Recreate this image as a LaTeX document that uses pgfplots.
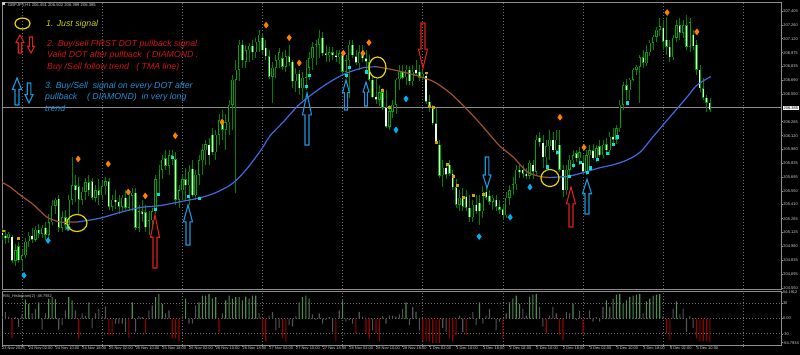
\documentclass[border=0pt]{standalone}
\usepackage{pgfplots}
\pgfplotsset{compat=1.18}
\usepackage{pgfplotstable}
\usepackage{fontspec}
\setmainfont{Liberation Sans}
\definecolor{wick}{RGB}{0,130,0}
\definecolor{bodyline}{RGB}{0,165,0}
\definecolor{bearfill}{RGB}{225,255,225}
\definecolor{tmab}{RGB}{65,105,225}
\definecolor{tmar}{RGB}{160,82,45}
\definecolor{dorange}{RGB}{255,128,0}
\definecolor{dcyan}{RGB}{0,175,240}
\definecolor{scyan}{RGB}{0,225,225}
\definecolor{sorange}{RGB}{220,160,0}
\definecolor{gridc}{RGB}{110,110,110}
\definecolor{framec}{RGB}{140,140,140}
\definecolor{labc}{RGB}{205,205,205}
\definecolor{hgreen}{RGB}{80,140,80}
\definecolor{hred}{RGB}{150,0,0}
\definecolor{hgrey}{RGB}{85,85,85}
\definecolor{ytext}{RGB}{205,205,20}
\definecolor{rtext}{RGB}{205,20,20}
\definecolor{btext}{RGB}{30,145,215}
\definecolor{rarrow}{RGB}{220,30,30}
\definecolor{barrow}{RGB}{30,150,220}
\definecolor{ycirc}{RGB}{230,215,0}
\newcommand\LegFont{\fontsize{8.8}{9.5}\selectfont\itshape}
\newcommand\TinyFont{\fontsize{4}{4.5}\selectfont}
\newcommand\ArrUp[5]{%
  \draw[#4, line width=1.1bp, line join=miter]
   (#1,#2) -- ({#1+#5},{#2+0.42*(#3-#2)}) -- ({#1+0.45*#5},{#2+0.42*(#3-#2)}) -- ({#1+0.45*#5},#3) -- ({#1-0.45*#5},#3) -- ({#1-0.45*#5},{#2+0.42*(#3-#2)}) -- ({#1-#5},{#2+0.42*(#3-#2)}) -- cycle;}
\newcommand\ArrDown[5]{%
  \draw[#4, line width=1.1bp, line join=miter]
   (#1,#3) -- ({#1+#5},{#3-0.42*(#3-#2)}) -- ({#1+0.45*#5},{#3-0.42*(#3-#2)}) -- ({#1+0.45*#5},#2) -- ({#1-0.45*#5},#2) -- ({#1-0.45*#5},{#3-0.42*(#3-#2)}) -- ({#1-#5},{#3-0.42*(#3-#2)}) -- cycle;}

\pgfplotstableread{
i o h l c
0 205.12 205.17 205.05 205.09
1 205.09 205.15 205.00 205.07
2 205.07 205.13 205.02 205.11
3 205.08 205.10 204.81 204.83
4 204.83 205.00 204.78 204.94
5 204.98 205.02 204.81 204.84
6 204.84 204.94 204.74 204.89
7 204.89 205.07 204.86 205.03
8 205.03 205.13 204.97 205.09
9 205.09 205.17 205.01 205.05
10 205.05 205.19 205.03 205.15
11 205.15 205.21 205.07 205.11
12 205.11 205.20 205.07 205.17
13 205.17 205.23 205.05 205.10
14 205.10 205.31 205.05 205.23
15 205.23 205.46 205.20 205.40
16 205.40 205.48 205.31 205.46
17 205.47 205.51 205.13 205.17
18 205.17 205.34 205.13 205.28
19 205.28 205.36 205.15 205.20
20 205.20 205.51 205.17 205.46
21 205.46 205.90 205.41 205.61
22 205.61 205.72 205.44 205.56
23 205.60 205.69 205.31 205.46
24 205.46 205.59 205.41 205.54
25 205.54 205.69 205.46 205.64
26 205.64 205.72 205.50 205.56
27 205.65 205.69 205.46 205.48
28 205.48 205.61 205.44 205.56
29 205.56 205.67 205.41 205.51
30 205.51 205.65 205.46 205.60
31 205.60 205.69 205.51 205.65
32 205.65 205.69 205.36 205.39
33 205.39 205.51 205.34 205.46
34 205.46 205.56 205.36 205.44
35 205.44 205.51 205.31 205.39
36 205.39 205.51 205.34 205.48
37 205.48 205.56 205.34 205.38
38 205.38 205.56 205.34 205.50
39 205.50 205.58 205.34 205.53
40 205.53 205.58 205.15 205.17
41 205.17 205.41 205.13 205.34
42 205.34 205.46 205.23 205.31
43 205.33 205.41 205.13 205.18
44 205.18 205.34 205.10 205.25
45 205.25 205.38 205.17 205.34
46 205.34 205.72 205.31 205.67
47 205.67 205.82 205.51 205.77
48 205.77 205.92 205.67 205.87
49 205.89 205.97 205.77 205.81
50 205.81 205.97 205.72 205.92
51 205.92 205.97 205.82 205.89
52 205.88 205.95 205.41 205.46
53 205.46 205.61 205.38 205.56
54 205.56 205.72 205.46 205.67
55 205.67 205.79 205.46 205.61
56 205.61 205.82 205.41 205.75
57 205.78 205.87 205.49 205.51
58 205.51 205.77 205.46 205.72
59 205.72 205.92 205.61 205.87
60 205.87 206.03 205.72 205.97
61 205.97 206.08 205.82 206.03
62 206.03 206.10 205.82 205.92
63 206.13 206.20 205.92 205.95
64 205.95 206.18 205.87 206.13
65 206.13 206.34 206.03 206.28
66 206.28 206.39 206.08 206.18
67 206.18 206.34 205.97 206.26
68 206.26 206.49 206.13 206.44
69 206.44 206.75 206.18 206.70
70 206.70 206.90 205.53 206.80
71 206.80 207.11 206.68 207.06
72 207.06 207.11 206.82 206.90
73 206.88 207.06 206.82 207.00
74 207.00 207.08 206.88 207.05
75 207.05 207.11 206.90 206.98
76 206.98 207.13 206.92 207.09
77 207.09 207.21 206.98 207.16
78 207.13 207.18 206.95 207.00
79 207.03 207.11 206.90 206.94
80 206.94 207.00 206.70 206.73
81 206.73 206.88 206.46 206.82
82 206.82 206.95 206.72 206.90
83 206.90 207.03 206.82 206.98
84 206.92 206.98 206.80 206.83
85 206.83 207.00 206.78 206.94
86 206.94 207.06 206.84 206.88
87 206.88 206.90 206.61 206.68
88 206.68 206.82 206.57 206.76
89 206.76 206.80 206.54 206.61
90 206.61 206.78 206.49 206.72
91 206.72 206.90 206.59 206.82
92 206.82 206.98 206.70 206.92
93 206.92 207.09 206.80 207.03
94 207.03 207.11 206.85 207.06
95 207.06 207.21 206.92 207.13
96 207.13 207.19 206.94 206.97
97 206.97 207.06 206.88 206.95
98 206.95 207.03 206.88 206.98
99 206.98 207.04 206.90 206.95
100 206.95 207.00 206.88 206.93
101 206.93 207.00 206.86 206.97
102 206.95 206.97 206.75 206.78
103 206.78 206.95 206.72 206.90
104 206.90 207.11 206.51 207.06
105 207.06 207.11 206.92 206.95
106 206.94 207.00 206.85 206.87
107 206.87 207.06 206.80 206.98
108 206.98 207.06 206.88 206.92
109 206.92 207.00 206.80 206.88
110 206.88 206.95 206.68 206.70
111 206.70 206.75 206.51 206.52
112 206.52 206.70 206.45 206.49
113 206.49 206.64 206.43 206.57
114 206.57 206.61 206.39 206.41
115 206.41 206.59 206.20 206.21
116 206.21 206.44 206.18 206.37
117 206.37 206.49 206.30 206.44
118 206.44 206.72 206.34 206.70
119 206.70 206.85 206.59 206.78
120 206.78 206.85 206.70 206.72
121 206.72 206.85 206.64 206.80
122 206.80 206.84 206.64 206.68
123 206.68 206.85 206.63 206.78
124 206.80 206.90 206.75 206.76
125 206.78 206.85 206.68 206.72
126 206.72 206.80 206.70 206.76
127 206.74 206.78 206.45 206.47
128 206.47 206.54 206.37 206.42
129 206.42 206.44 206.23 206.25
130 206.25 206.41 206.03 206.05
131 206.03 206.08 205.69 205.71
132 205.71 205.87 205.59 205.79
133 205.79 205.82 205.67 205.72
134 205.82 205.87 205.71 205.73
135 205.73 205.77 205.56 205.59
136 205.59 205.67 205.38 205.41
137 205.41 205.56 205.34 205.48
138 205.48 205.58 205.34 205.39
139 205.49 205.56 205.34 205.38
140 205.38 205.51 205.23 205.28
141 205.28 205.46 205.23 205.41
142 205.41 205.51 205.31 205.34
143 205.43 205.51 205.20 205.34
144 205.34 205.60 205.27 205.54
145 205.54 205.61 205.46 205.48
146 205.50 205.56 205.41 205.44
147 205.44 205.51 205.36 205.48
148 205.46 205.51 205.34 205.39
149 205.39 205.46 205.31 205.36
150 205.36 205.41 205.25 205.30
151 205.30 205.54 205.27 205.48
152 205.48 205.61 205.41 205.56
153 205.56 205.69 205.51 205.62
154 205.62 205.82 205.56 205.77
155 205.77 205.82 205.69 205.75
156 205.77 205.82 205.69 205.73
157 205.73 205.79 205.67 205.71
158 205.71 205.87 205.67 205.84
159 205.82 205.87 205.67 205.75
160 205.75 206.13 205.72 206.08
161 206.10 206.16 206.00 206.05
162 206.05 206.13 205.79 205.90
163 205.90 206.08 205.79 206.01
164 206.01 206.18 205.87 206.08
165 206.08 206.16 205.95 205.97
166 205.97 206.18 205.92 206.08
167 206.03 206.18 205.75 205.77
168 205.77 205.82 205.49 205.56
169 205.56 205.82 205.51 205.77
170 205.77 205.92 205.70 205.87
171 205.87 205.97 205.79 205.92
172 205.94 205.97 205.85 205.89
173 205.89 206.00 205.82 205.95
174 205.84 205.92 205.72 205.75
175 205.75 205.97 205.72 205.92
176 205.92 206.03 205.77 205.97
177 205.97 206.03 205.87 205.89
178 205.89 206.03 205.85 205.99
179 206.01 206.08 205.90 205.92
180 205.92 206.08 205.89 206.03
181 206.03 206.10 205.92 205.97
182 205.97 206.16 205.92 206.11
183 206.11 206.20 206.03 206.08
184 206.08 206.23 206.03 206.20
185 206.20 206.49 206.16 206.44
186 206.44 206.67 206.39 206.64
187 206.64 206.70 206.49 206.59
188 206.59 206.72 206.49 206.70
189 206.70 206.82 206.68 206.80
190 206.80 206.85 206.75 206.83
191 206.83 206.95 206.46 206.93
192 206.93 207.00 206.82 206.87
193 206.87 207.06 206.84 206.98
194 206.98 207.11 206.94 207.08
195 207.08 207.16 207.00 207.14
196 207.14 207.24 207.09 207.21
197 207.21 207.33 207.15 207.25
198 207.23 207.31 207.00 207.09
199 207.11 207.34 206.95 207.04
200 207.04 207.11 206.88 206.93
201 206.93 207.16 206.90 207.13
202 207.13 207.31 207.09 207.26
203 207.26 207.33 207.11 207.18
204 207.18 207.31 207.13 207.26
205 207.26 207.37 207.00 207.04
206 207.04 207.33 206.98 207.29
207 207.16 207.21 207.00 207.04
208 207.06 207.11 206.75 206.80
209 206.80 206.85 206.57 206.61
210 206.61 206.72 206.49 206.51
211 206.51 206.54 206.37 206.46
212 206.46 206.51 206.37 206.39
}\candles

\pgfplotstableread{
i v
0 5
1 13
2 4
3 -39
4 3
5 -16
6 8
7 37
8 29
9 10
10 19
11 32
12 -22
13 10
14 39
15 42
16 38
17 -22
18 -13
19 16
20 42
21 36
22 16
23 -39
24 10
25 6
26 32
27 -19
28 10
29 19
30 5
31 24
32 -32
33 -35
34 -10
35 -10
36 -10
37 -26
38 -39
39 32
40 -26
41 5
42 3
43 -29
44 16
45 26
46 42
47 48
48 29
49 10
50 16
51 -39
52 -39
53 -45
54 5
55 39
56 -10
57 -10
58 26
59 32
60 45
61 45
62 48
63 39
64 42
65 -29
66 10
67 36
68 45
69 39
70 42
71 42
72 36
73 43
74 39
75 45
76 45
77 10
78 -36
79 -45
80 6
81 13
82 -23
83 -19
84 -39
85 -45
86 -13
87 -16
88 5
89 32
90 42
91 45
92 39
93 8
94 -3
95 10
96 -10
97 -3
98 3
99 -26
100 -45
101 16
102 36
103 -6
104 -3
105 -10
106 -29
107 13
108 4
109 -29
110 -39
111 -23
112 -29
113 -45
114 5
115 -10
116 6
117 6
118 4
119 8
120 19
121 32
122 -13
123 23
124 13
125 -23
126 -45
127 -45
128 -45
129 -48
130 -48
131 -48
132 -19
133 -26
134 -39
135 -45
136 -32
137 6
138 -26
139 -32
140 3
141 13
142 -13
143 32
144 -10
145 6
146 19
147 2
148 -23
149 -6
150 -39
151 10
152 32
153 39
154 45
155 29
156 19
157 6
158 43
159 47
160 48
161 23
162 -16
163 -29
164 6
165 23
166 10
167 -32
168 -42
169 13
170 10
171 29
172 -3
173 15
174 -29
175 1
176 16
177 -6
178 3
179 -6
180 23
181 36
182 23
183 39
184 47
185 48
186 29
187 36
188 42
189 45
190 47
191 48
192 10
193 34
194 39
195 45
196 47
197 48
198 5
199 -29
200 -42
201 19
202 34
203 8
204 19
205 -26
206 5
207 -19
208 -39
209 -45
210 -45
211 -45
212 -47
}\hist

\begin{document}
\begin{tikzpicture}
\path[use as bounding box] (0,0) rectangle (800bp,-355bp);
\fill[black] (0,0) rectangle (800bp,-355bp);

% ---------------- main price panel ----------------
\begin{axis}[
  at={(2bp,-2bp)}, anchor=north west,
  scale only axis, width=779bp, height=287bp,
  xmin=0, xmax=233.3, ymin=204.540, ymax=207.498,
  axis line style={draw=framec, line width=0.8bp},
  xtick={6,30,...,222}, xticklabels=\empty, xmajorgrids,
  xtick style={draw=none},
  grid style={draw=gridc, line width=0.7bp, dash pattern=on 1bp off 2bp},
  ytick={204.550,204.695,204.835,204.980,205.125,205.265,205.410,205.550,205.695,205.835,205.980,206.120,206.265,206.550,206.690,206.835,206.975,207.120,207.260,207.405},
  yticklabels={204.550,204.695,204.835,204.980,205.125,205.265,205.410,205.550,205.695,205.835,205.980,206.120,206.265,206.550,206.690,206.835,206.975,207.120,207.260,207.405},
  ytick pos=right, yticklabel pos=right,
  ytick style={draw=framec, line width=0.5bp},
  tick align=outside, major tick length=1.8bp,
  yticklabel style={font=\TinyFont, text=labc, inner sep=0.4bp},
]
% current price line
\addplot[draw=framec, line width=0.8bp, forget plot] coordinates {(0,206.408) (233.3,206.408)};
% wicks
\addplot[draw=none, mark=none, forget plot,
  error bars/.cd, y dir=both, y explicit, error mark=none,
  error bar style={draw=wick, line width=0.7bp}]
  table[x=i, y expr={(\thisrow{h}+\thisrow{l})/2}, y error expr={(\thisrow{h}-\thisrow{l})/2}] {\candles};
% body outlines
\addplot[draw=none, mark=none, forget plot,
  error bars/.cd, y dir=both, y explicit, error mark=none,
  error bar style={draw=bodyline, line width=2.4bp}]
  table[x=i, y expr={(\thisrow{o}+\thisrow{c})/2}, y error expr={max(abs(\thisrow{o}-\thisrow{c})/2,0.006)}] {\candles};
% bull interiors (dark)
\addplot[draw=none, mark=none, forget plot,
  restrict expr to domain={\thisrow{c}-\thisrow{o}}{0.001:10},
  error bars/.cd, y dir=both, y explicit, error mark=none,
  error bar style={draw=black, line width=0.9bp}]
  table[x=i, y expr={(\thisrow{o}+\thisrow{c})/2}, y error expr={max(abs(\thisrow{o}-\thisrow{c})/2-0.005,0)}] {\candles};
% bear interiors (white)
\addplot[draw=none, mark=none, forget plot,
  restrict expr to domain={\thisrow{c}-\thisrow{o}}{-10:-0.001},
  error bars/.cd, y dir=both, y explicit, error mark=none,
  error bar style={draw=bearfill, line width=1.2bp}]
  table[x=i, y expr={(\thisrow{o}+\thisrow{c})/2}, y error expr={max(abs(\thisrow{o}-\thisrow{c})/2-0.005,0)}] {\candles};
% TMA line
\addplot[tmar, line width=1.2bp, smooth, forget plot] coordinates {(0,205.64) (2.5,205.59) (5.4,205.51) (9.4,205.41) (13.5,205.28) (17.4,205.23) (19.5,205.23) (22.5,205.23)};
\addplot[tmab, line width=1.2bp, smooth, forget plot] coordinates {(22.5,205.23) (29.4,205.27) (35.4,205.33) (41.4,205.38) (47.4,205.40) (53.4,205.44) (59.3,205.48) (63.8,205.53) (68.3,205.61) (71.3,205.70) (74.3,205.82) (77.9,205.99) (80.3,206.12) (84.2,206.26) (89.3,206.45) (96.2,206.63) (102.2,206.75) (108.1,206.82) (112.3,206.83)};
\addplot[tmar, line width=1.2bp, smooth, forget plot] coordinates {(112.3,206.83) (117.1,206.80) (123.1,206.75) (129.1,206.68) (134.2,206.56) (139.3,206.39) (142.3,206.28) (146.1,206.13) (149.2,206.01) (153.1,205.90) (157.2,205.75) (161.1,205.70) (164.1,205.69)};
\addplot[tmab, line width=1.2bp, smooth, forget plot] coordinates {(164.1,205.69) (169.2,205.70) (173.1,205.73) (179.1,205.79) (183,205.82) (187.2,205.87) (191.1,205.95) (195,206.11) (199.2,206.28) (205.2,206.52) (208.1,206.64) (212.3,206.73)};
% dots
\addplot[only marks, mark=square*, mark size=0.9bp, color=sorange, forget plot] coordinates {(0.3,205.14) (4.9,205.06) (113.8,206.59) (116,206.41) (127,206.77) (128,206.42) (129.1,206.41) (130,206.05) (133.3,205.83) (135.1,205.70) (136.3,205.61) (138.1,205.49) (141.1,205.51) (144.1,205.52)};
\addplot[only marks, mark=square*, mark size=1.1bp, color=scyan, forget plot] coordinates {(45.9,205.36) (46.8,205.52) (51,205.90) (55.8,205.50) (59.1,205.48) (91.1,206.63) (92,206.74) (103,206.74) (104,206.83) (109,206.78) (163.2,205.80) (166.2,205.95) (169.8,205.70) (171,205.82) (173.1,205.85) (175.2,205.74) (176.1,205.79) (178.2,205.88) (181.2,205.94) (183,206.03) (184.2,206.11) (187.2,206.46)};
\addplot[only marks, mark=diamond*, mark size=3bp, color=dorange, forget plot] coordinates {(22.8,205.88) (31.8,205.83) (37.8,205.54) (42.9,205.50) (51.9,206.12) (65.9,206.26) (79.1,207.26) (86,207.13) (89,206.87) (102.2,206.97) (108.1,206.97) (109.9,207.08) (167.1,206.31) (174.3,206.00) (199.2,207.39) (208.1,207.19)};
\addplot[only marks, mark=diamond*, mark size=3bp, color=dcyan, forget plot] coordinates {(6.6,204.68) (13.8,205.04) (19.8,205.17) (118,206.18) (121,206.50) (142.9,205.08) (152.2,205.28) (158.1,205.59)};
\end{axis}

% ---------------- histogram panel ----------------
\begin{axis}[
  at={(2bp,-291bp)}, anchor=north west,
  scale only axis, width=779bp, height=54bp,
  xmin=0, xmax=233.3, ymin=-52, ymax=54.19,
  axis line style={draw=framec, line width=0.8bp},
  xtick={0,8,...,208},
  xticklabels={23 Nov 2025,24 Nov 02:00,24 Nov 10:00,24 Nov 18:00,25 Nov 02:00,25 Nov 10:00,25 Nov 18:00,26 Nov 02:00,26 Nov 10:00,26 Nov 18:00,27 Nov 02:00,27 Nov 10:00,27 Nov 18:00,28 Nov 02:00,28 Nov 10:00,28 Nov 18:00,1 Dec 02:00,1 Dec 10:00,1 Dec 18:00,2 Dec 02:00,2 Dec 10:00,2 Dec 18:00,3 Dec 02:00,3 Dec 10:00,3 Dec 18:00,4 Dec 02:00,4 Dec 10:00},
  xtick pos=bottom,
  xticklabel style={anchor=north west, font=\TinyFont, text=labc, inner sep=0.5bp, xshift=-0.5bp},
  xtick style={draw=framec, line width=0.5bp},
  extra x ticks={6,30,...,222}, extra x tick labels=\empty,
  extra x tick style={grid=major, tick style={draw=none}},
  grid style={draw=gridc, line width=0.7bp, dash pattern=on 1bp off 2bp},
  ytick={-30,0,30}, yticklabels={-30,0.00,30}, ymajorgrids,
  extra y ticks={52.5,-47.5}, extra y tick labels={54.1912,-64.7934},
  extra y tick style={grid=none},
  ytick pos=right, yticklabel pos=right,
  ytick style={draw=framec, line width=0.5bp},
  tick align=outside, major tick length=1.5bp,
  yticklabel style={font=\TinyFont, text=labc, inner sep=0.3bp},
]
\addplot[ybar, bar shift=0pt, bar width=1.1bp, draw=none, fill=hgreen, restrict y to domain=27:100, forget plot] table[x=i, y=v] {\hist};
\addplot[ybar, bar shift=0pt, bar width=1.1bp, draw=none, fill=hred, restrict y to domain=-100:-27, forget plot] table[x=i, y=v] {\hist};
\addplot[ybar, bar shift=0pt, bar width=1.1bp, draw=none, fill=hgrey, restrict y to domain=-26.9:26.9, forget plot] table[x=i, y=v] {\hist};
\end{axis}

% ---------------- annotations ----------------
\begin{scope}[x=1bp, y=-1bp]
\node[anchor=base west, inner sep=0, text=labc, font=\fontsize{4.2}{5}\selectfont] at (8,6) {GBPJPY,H1 206.451 206.502 206.389 206.385};
\fill[labc] (2,2.5) rectangle (5,5.5);
\node[anchor=base west, inner sep=0, text=labc, font=\fontsize{4}{5}\selectfont] at (3,297) {RSI\textunderscore Histogram(2) -48.7932};
\node[anchor=west, inner sep=0.5bp, fill=white, text=black, font=\TinyFont] at (783,108) {206.385};
% legend
\draw[ycirc, line width=1.2bp] (22.5,23.5) ellipse [x radius=7.5, y radius=5.5];
\ArrUp{20}{35}{53}{rarrow}{4}
\ArrDown{31}{37}{53}{rarrow}{3.5}
\ArrUp{17}{78}{105}{barrow}{4.5}
\ArrDown{29}{83}{103}{barrow}{4}
\node[anchor=base west, inner sep=0, text=ytext, font=\LegFont] at (46,26) {1. Just signal};
\node[anchor=base west, inner sep=0, text=rtext, font=\LegFont] at (47,46) {2. Buy/sell FIRST DOT pullback signal.};
\node[anchor=base west, inner sep=0, text=rtext, font=\LegFont] at (47,57.5) {Valid DOT after pullback~~( DIAMOND .};
\node[anchor=base west, inner sep=0, text=rtext, font=\LegFont] at (47,69) {Buy /Sell follow trend~~~( TMA line)};
\node[anchor=base west, inner sep=0, text=btext, font=\LegFont] at (45,88) {3. Buy/Sell~~signal on every DOT after};
\node[anchor=base west, inner sep=0, text=btext, font=\LegFont] at (45,99.5) {pullback~~~~( DIAMOND)~~in very long};
\node[anchor=base west, inner sep=0, text=btext, font=\LegFont] at (45,111) {trend};
% chart marks
\draw[ycirc, line width=1.2bp] (77,223) ellipse [x radius=10, y radius=8.5];
\draw[ycirc, line width=1.2bp] (377.5,67.5) ellipse [x radius=8.5, y radius=10.5];
\draw[ycirc, line width=1.2bp] (550,178) ellipse [x radius=9, y radius=8.5];
\ArrUp{155}{215}{268}{rarrow}{4.5}
\ArrUp{571}{187}{227}{rarrow}{4.5}
\ArrDown{423}{23}{68}{rarrow}{4.5}
\ArrUp{188}{205}{245}{barrow}{4.5}
\ArrUp{307}{93}{145}{barrow}{4.5}
\ArrUp{346}{80}{110}{barrow}{3.5}
\ArrUp{366}{82}{106}{barrow}{3}
\ArrUp{587}{179}{214}{barrow}{4.5}
\ArrDown{487}{157}{188}{barrow}{4}
\end{scope}
\end{tikzpicture}
\end{document}
